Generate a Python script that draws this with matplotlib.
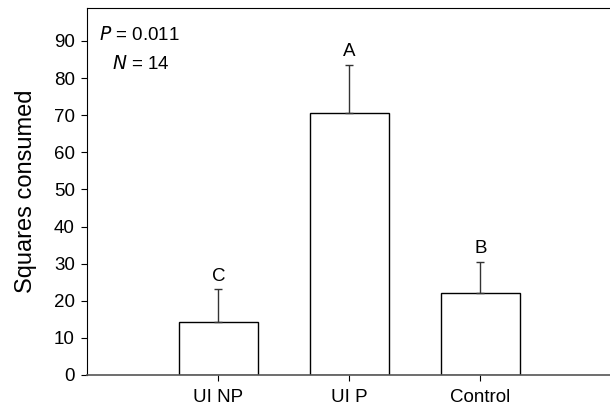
import matplotlib
matplotlib.use("Agg")
import matplotlib.pyplot as plt

categories = ["UI NP", "UI P", "Control"]
means = [14.3, 70.6, 22.2]
errors = [8.8, 13.0, 8.3]
letters = ["C", "A", "B"]

plt.rcParams["font.family"] = ["Liberation Sans", "DejaVu Sans"]

fig = plt.figure(figsize=(6.1, 4.11), dpi=100)
ax = fig.add_axes([0.143, 0.0876, 0.857, 0.894])

x = list(range(len(categories)))
ax.bar(x, means, width=0.6, color="white", edgecolor="black", linewidth=1.0, zorder=2)
# one-sided (upper) error bars
ax.errorbar(x, means, yerr=[[0] * len(errors), errors], fmt="none",
            ecolor="#333333", elinewidth=1.0, capsize=3, capthick=1.0, zorder=3)
for xi, m, e, lab in zip(x, means, errors, letters):
    ax.text(xi, m + e + 1.2, lab, ha="center", va="bottom", fontsize=13.5)

ax.set_xlim(-1, 2.99)
ax.set_ylim(0, 99)
ax.set_xticks(x)
ax.set_xticklabels(categories, fontsize=13.5)
ax.set_yticks(range(0, 100, 10))
ax.tick_params(axis="y", labelsize=13.5, direction="out", length=4, width=0.8, pad=5)
ax.tick_params(axis="x", direction="out", length=4, width=0.8, pad=6)
ax.set_ylabel("Squares consumed", fontsize=17, labelpad=12)

ax.spines["right"].set_visible(False)
ax.spines["bottom"].set_color("#555555")
ax.spines["bottom"].set_linewidth(1.2)

ax.text(0.022, 0.95, r"$P$ = 0.011", transform=ax.transAxes, ha="left", va="top", fontsize=13.5)
ax.text(0.048, 0.872, r"$N$ = 14", transform=ax.transAxes, ha="left", va="top", fontsize=13.5)

fig.savefig("out.png", dpi=100)
